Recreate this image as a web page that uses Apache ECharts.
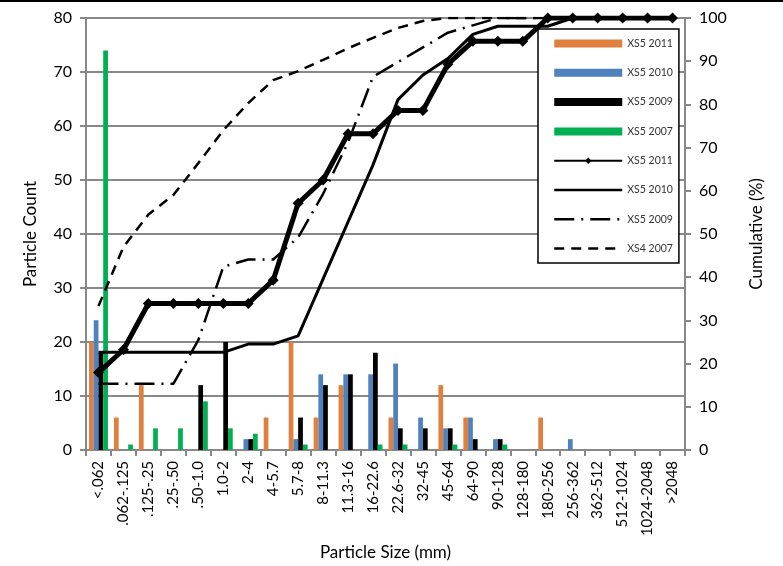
<!DOCTYPE html>
<html><head><meta charset="utf-8">
<script src="https://cdn.jsdelivr.net/npm/echarts@6/dist/echarts.min.js"></script>
<style>html,body{margin:0;padding:0;background:#fff}#c{width:783px;height:566px}</style>
</head><body><div id="c"></div>
<script>
const categories = ['<.062','.062-.125','.125-.25','.25-.50','.50-1.0','1.0-2','2-4','4-5.7','5.7-8','8-11.3','11.3-16','16-22.6','22.6-32','32-45','45-64','64-90','90-128','128-180','180-256','256-362','362-512','512-1024','1024-2048','>2048'];
const countXS5_2011 = [20,6,12,0,0,0,0,6,20,6,12,0,6,0,12,6,0,0,6,0,0,0,0,0];
const countXS5_2010 = [24,0,0,0,0,0,2,0,2,14,14,14,16,6,4,6,2,0,0,2,0,0,0,0];
const countXS5_2009 = [18,0,0,0,12,20,2,0,6,12,14,18,4,4,4,2,2,0,0,0,0,0,0,0];
const countXS5_2007 = [74,1,4,4,9,4,3,0,1,0,0,1,1,0,1,0,1,0,0,0,0,0,0,0];
const cumXS5_2011 = [17.9,23.2,33.9,33.9,33.9,33.9,33.9,39.3,57.1,62.5,73.2,73.2,78.6,78.6,89.3,94.6,94.6,94.6,100,100,100,100,100,100];
const cumXS5_2010 = [22.6,22.6,22.6,22.6,22.6,22.6,24.5,24.5,26.4,39.6,52.8,66.0,81.1,86.8,90.6,96.2,98.1,98.1,98.1,100,100,100,100,100];
const cumXS5_2009 = [15.3,15.3,15.3,15.3,25.4,42.4,44.1,44.1,49.2,59.3,71.2,86.4,89.8,93.2,96.6,98.3,100,100,100,100,100,100,100,100];
const cumXS4_2007 = [33.3,47,54.5,59,66.4,74,80.3,85.6,87.7,90.3,93,95.4,97.7,99.3,100,100,100,100,100,100,100,100,100,100];
const countTicks = [0,10,20,30,40,50,60,70,80];
const cumTicks = [0,10,20,30,40,50,60,70,80,90,100];

const FONT = 'Lato';
const AX = '#888888';
const SUF = ' (cum)';
const chart = echarts.init(document.getElementById('c'));
const barNames = ['XS5 2011','XS5 2010','XS5 2009','XS5 2007'];
const barColors = ['#E0803E','#4F81BD','#000000','#00B050'];
const barData = [countXS5_2011,countXS5_2010,countXS5_2009,countXS5_2007];
const series = barNames.map((n,i)=>({
  name:n, type:'bar', yAxisIndex:0, data:barData[i],
  barGap:'0%', barCategoryGap:'24%', itemStyle:{color:barColors[i]}, z:2
}));
series.push({name:'XS5 2011'+SUF, type:'line', yAxisIndex:1, data:cumXS5_2011,
  symbol:'diamond', symbolSize:11, showSymbol:true,
  itemStyle:{color:'#000'}, lineStyle:{color:'#000', width:5}, z:6});
series.push({name:'XS5 2010'+SUF, type:'line', yAxisIndex:1, data:cumXS5_2010,
  symbol:'none', itemStyle:{color:'#000'}, lineStyle:{color:'#000', width:3}, z:5});
series.push({name:'XS5 2009'+SUF, type:'line', yAxisIndex:1, data:cumXS5_2009,
  symbol:'none', itemStyle:{color:'#000'}, lineStyle:{color:'#000', width:2.5, type:[20,7,2,7]}, z:5});
series.push({name:'XS4 2007'+SUF, type:'line', yAxisIndex:1, data:cumXS4_2007,
  symbol:'none', itemStyle:{color:'#000'}, lineStyle:{color:'#000', width:2.5, type:[10,7]}, z:5});

const legendData = barNames.map(n=>({name:n, icon:'rect'})).concat([
  {name:'XS5 2011'+SUF, lineStyle:{width:2}, itemStyle:{color:'#000'}},
  {name:'XS5 2010'+SUF, lineStyle:{width:2.5}, itemStyle:{opacity:0}},
  {name:'XS5 2009'+SUF, lineStyle:{width:2.5}, itemStyle:{opacity:0}},
  {name:'XS4 2007'+SUF, lineStyle:{width:2.5}, itemStyle:{opacity:0}}
]);

chart.setOption({
  animation:false,
  backgroundColor:'#fff',
  textStyle:{fontFamily:FONT},
  graphic:[{type:'rect', left:0, top:0, shape:{width:783, height:2}, style:{fill:'#000'}}],
  grid:{left:86, right:98, top:18, bottom:116, containLabel:false},
  legend:{
    orient:'vertical', left:538, top:29, padding:[9,6,9,15],
    itemWidth:68, itemHeight:8, itemGap:18.3,
    borderColor:'#000', borderWidth:1.5, backgroundColor:'#fff',
    textStyle:{fontFamily:FONT, fontSize:10.5, color:'#333'},
    formatter:n=>n.replace(SUF,''),
    data:legendData
  },
  xAxis:{
    type:'category', data:categories,
    name:'Particle Size (mm)', nameLocation:'middle', nameGap:94,
    nameTextStyle:{fontFamily:FONT, fontSize:17, color:'#000'},
    axisLine:{lineStyle:{color:AX, width:2}},
    axisTick:{show:true, interval:0, length:6, lineStyle:{color:AX, width:2}},
    axisLabel:{interval:0, rotate:90, margin:11, fontFamily:FONT, fontSize:15, color:'#000'}
  },
  yAxis:[{
    type:'value', min:0, max:80, interval:10,
    name:'Particle Count', nameLocation:'middle', nameGap:47,
    nameTextStyle:{fontFamily:FONT, fontSize:17, color:'#000'},
    axisLine:{show:true, lineStyle:{color:AX, width:2}},
    axisTick:{show:true, length:6, lineStyle:{color:AX, width:2}},
    axisLabel:{margin:14, fontFamily:FONT, fontSize:16, color:'#000',
      formatter:v=>countTicks.indexOf(v)>=0?String(v):''},
    splitLine:{show:true, lineStyle:{color:AX, width:2}}
  },{
    type:'value', min:0, max:100, interval:10, position:'right',
    name:'Cumulative (%)', nameLocation:'middle', nameGap:63,
    nameTextStyle:{fontFamily:FONT, fontSize:17, color:'#000'},
    axisLine:{show:true, lineStyle:{color:AX, width:2}},
    axisTick:{show:true, length:6, lineStyle:{color:AX, width:2}},
    axisLabel:{margin:14, fontFamily:FONT, fontSize:16, color:'#000',
      formatter:v=>cumTicks.indexOf(v)>=0?String(v):''},
    splitLine:{show:false}
  }],
  series:series
});
</script></body></html>
